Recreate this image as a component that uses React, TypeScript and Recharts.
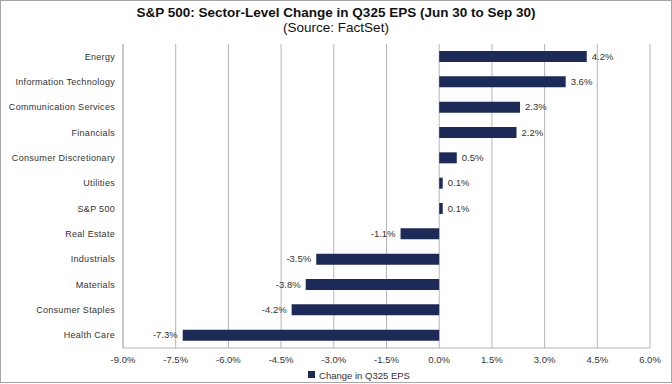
import { Bar, BarChart, CartesianGrid, LabelList, Legend, XAxis, YAxis } from "recharts";

const SECTORS = [
  "Energy",
  "Information Technology",
  "Communication Services",
  "Financials",
  "Consumer Discretionary",
  "Utilities",
  "S&P 500",
  "Real Estate",
  "Industrials",
  "Materials",
  "Consumer Staples",
  "Health Care",
];

const EPS_CHANGE = [4.2, 3.6, 2.3, 2.2, 0.5, 0.1, 0.1, -1.1, -3.5, -3.8, -4.2, -7.3];

const X_TICKS = [-9, -7.5, -6, -4.5, -3, -1.5, 0, 1.5, 3, 4.5, 6];

const SERIES_NAME = "Change in Q325 EPS";
const NAVY = "#1b2a57";
const GRID = "#b5b5b5";
const FONT = "'Liberation Sans', Arial, sans-serif";

const rows = SECTORS.map((name, i) => ({ name, value: EPS_CHANGE[i] }));

const pct = (v: number) => `${v.toFixed(1)}%`;

function BarValue(props: any) {
  const { x, y, width, height, value } = props;
  const left = Math.min(x, x + width);
  const right = Math.max(x, x + width);
  const pos = value >= 0;
  return (
    <text
      x={pos ? right + 5 : left - 5}
      y={y + height / 2}
      dy="0.35em"
      textAnchor={pos ? "start" : "end"}
      fontSize={9.5}
      fontFamily={FONT}
      fill="#333"
    >
      {pct(value)}
    </text>
  );
}

function SectorTick(props: any) {
  const { x, y, payload } = props;
  return (
    <text
      x={x}
      y={y}
      dy="0.35em"
      textAnchor="end"
      fontSize={9}
      fontFamily={FONT}
      fill="#333"
      letterSpacing={0.3}
    >
      {payload.value}
    </text>
  );
}

export default function App() {
  return (
    <div
      style={{
        position: "absolute",
        left: 0,
        top: 0,
        width: 672,
        height: 384,
        background: "#fff",
        fontFamily: FONT,
      }}
    >
      <div
        style={{
          position: "absolute",
          left: 0,
          top: 0,
          width: 672,
          height: 383,
          border: "1px solid #a6a6a6",
          boxSizing: "border-box",
          pointerEvents: "none",
        }}
      />
      <div
        style={{
          position: "absolute",
          top: 5,
          width: 672,
          textAlign: "center",
          fontSize: 13.5,
          fontWeight: "bold",
          color: "#111",
          lineHeight: "16px",
        }}
      >
        S&amp;P 500: Sector-Level Change in Q325 EPS (Jun 30 to Sep 30)
      </div>
      <div
        style={{
          position: "absolute",
          top: 20,
          width: 672,
          textAlign: "center",
          fontSize: 13.5,
          color: "#111",
          lineHeight: "16px",
        }}
      >
        (Source: FactSet)
      </div>
      <BarChart
        width={672}
        height={384}
        layout="vertical"
        data={rows}
        margin={{ top: 44, right: 22, bottom: 2, left: 0 }}
        barCategoryGap="30%"
      >
        <CartesianGrid horizontal={false} stroke={GRID} />
        <XAxis
          type="number"
          domain={[-9, 6]}
          ticks={X_TICKS}
          tickFormatter={pct}
          tick={{ fontSize: 9.5, fill: "#333", fontFamily: FONT }}
          axisLine={{ stroke: GRID }}
          tickLine={false}
          height={17}
          interval={0}
        />
        <YAxis
          type="category"
          dataKey="name"
          width={123}
          tick={<SectorTick />}
          axisLine={{ stroke: GRID }}
          tickLine={false}
          interval={0}
        />
        <Legend
          verticalAlign="bottom"
          height={17}
          iconType="square"
          iconSize={7}
          formatter={(v: string) => (
            <span style={{ color: "#333", fontSize: 9.5, fontFamily: FONT }}>{v}</span>
          )}
          wrapperStyle={{ left: 0, width: 672, paddingLeft: 28 }}
        />
        <Bar
          dataKey="value"
          name={SERIES_NAME}
          fill={NAVY}
          barSize={11}
          isAnimationActive={false}
        >
          <LabelList dataKey="value" content={BarValue} />
        </Bar>
      </BarChart>
    </div>
  );
}
